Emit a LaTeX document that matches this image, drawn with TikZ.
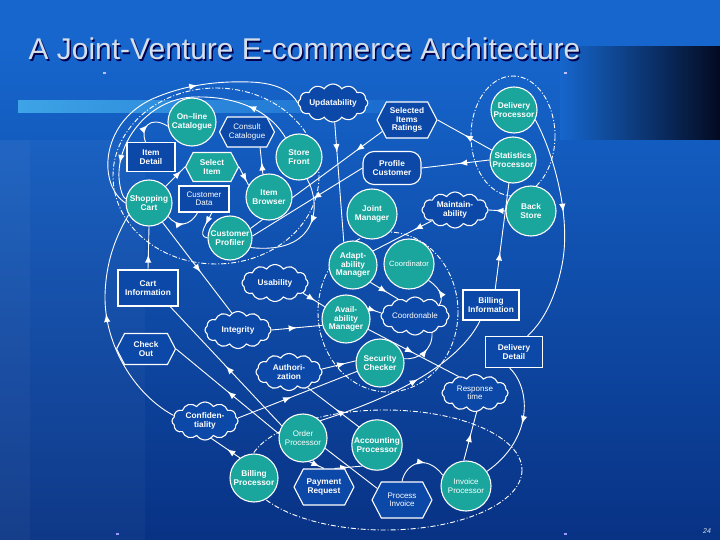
\documentclass[tikz,border=0pt]{standalone}
\usepackage{fontspec}
\setmainfont{Liberation Sans}
\usepackage{tikz}
\usetikzlibrary{shapes.geometric,shapes.symbols,decorations.markings,arrows,backgrounds}

\definecolor{slidetop}{RGB}{22,102,205}
\definecolor{slidebot}{RGB}{8,50,132}
\definecolor{darkband}{RGB}{3,10,32}
\definecolor{barblue}{RGB}{62,164,230}
\definecolor{procfill}{RGB}{26,166,156}
\definecolor{boxfill}{RGB}{12,72,168}
\definecolor{titlecol}{RGB}{214,222,234}

\tikzset{
  lbl/.style={text=white,font=\fontsize{8.3}{8.4}\selectfont\bfseries,align=center,inner sep=1pt},
  thinlbl/.style={font=\fontsize{8}{8.4}\selectfont},
  proc/.style={lbl,circle,draw=white,line width=1.1pt,fill=procfill,minimum size=#1},
  proc/.default=46pt,
  datab/.style={lbl,rectangle,draw=white,line width=1.1pt,fill=boxfill,minimum width=#1,minimum height=29pt},
  datab/.default=52pt,
  task/.style={lbl,signal,signal to=east and west,signal pointer angle=125,draw=white,line width=1.1pt,fill=boxfill,minimum width=#1,minimum height=31pt},
  task/.default=58pt,
  soft/.style={lbl,cloud,cloud puffs=12,cloud puff arc=115,cloud ignores aspect,draw=white,line width=1.1pt,fill=boxfill,minimum width=66pt,minimum height=37pt},
  flow/.style={draw=white,line width=0.9pt},
  arrowat/.style={postaction={decorate},decoration={markings,mark=at position #1 with {\arrow[scale=1.5]{latex}}}},
  arrowat/.default=0.5,
  arrowsat/.style 2 args={postaction={decorate},decoration={markings,mark=at position #1 with {\arrow[scale=1.5]{latex}},mark=at position #2 with {\arrow[scale=1.5]{latex}}}},
  bound/.style={draw=white,line width=0.9pt,dash pattern=on 5pt off 2pt on 1pt off 2pt}
}

\begin{document}
\begin{tikzpicture}[x=1pt,y=-1pt]
\useasboundingbox (0,0) rectangle (720,540);

\node[anchor=base west,text=black!70!blue,font=\fontsize{30}{30}\selectfont](titleshadow)at(26.5,61.5){A Joint-Venture E-commerce Architecture};
\node[anchor=base west,text=titlecol,font=\fontsize{30}{30}\selectfont](title)at(25,60){A Joint-Venture E-commerce Architecture};
\node[text=titlecol,font=\fontsize{7}{7}\selectfont\itshape](pagenum)at(707,531){24};

\node[proc=48pt](cat)at(192,122){On--line\\Catalogue};
\node[task=55pt,minimum height=30pt,thinlbl](consult)at(247,132){Consult\\Catalogue};
\node[proc](store)at(299,157){Store\\Front};
\node[datab=48pt](detail)at(151,157){Item\\Detail};
\node[task=53pt,minimum height=29pt,fill=procfill](select)at(212,167){Select\\Item};
\node[proc](browser)at(269,197){Item\\Browser};
\node[proc](cart)at(149,203){Shopping\\Cart};
\node[datab=50pt,minimum height=26pt,thinlbl](custdata)at(204,199){Customer\\Data};
\node[proc=44pt](profiler)at(230,238){Customer\\Profiler};
\node[soft,minimum height=38pt](updat)at(333,103){Updatability};
\node[task=60pt,minimum height=36pt](ratings)at(407,120){Selected\\Items\\Ratings};
\node[lbl,rectangle,rounded corners=11pt,draw=white,line width=1.1pt,fill=boxfill,minimum width=58pt,minimum height=33pt](profcust)at(392,168){Profile\\Customer};
\node[proc](delproc)at(514,110){Delivery\\Processor};
\node[proc](statproc)at(513,160){Statistics\\Processor};
\node[proc=50pt](backstore)at(531,211){Back\\Store};
\node[proc=50pt](joint)at(372,214){Joint\\Manager};
\node[soft,minimum height=36pt](maintain)at(455,210){Maintain-\\ability};
\node[proc=48pt](adapt)at(353,265){Adapt-\\ability\\Manager};
\node[proc=50pt,font=\fontsize{7.6}{8}\selectfont](coord)at(409,264){Coordinator};
\node[soft](usab)at(275,283){Usability};
\node[datab=60pt,minimum height=36pt](cartinfo)at(148,288){Cart\\Information};
\node[proc=48pt](avail)at(346,319){Avail-\\ability\\Manager};
\node[soft,minimum width=68pt,minimum height=38pt,thinlbl](coordon)at(415,316){Coordonable};
\node[soft](integ)at(238,330){Integrity};
\node[task=59pt](checkout)at(146,349){Check\\Out};
\node[datab=56pt,minimum height=30pt](billinfo)at(491,305){Billing\\Information};
\node[datab=57pt,minimum height=31pt](deldetail)at(514,352){Delivery\\Detail};
\node[soft](author)at(289,372){Authori-\\zation};
\node[proc=48pt](secur)at(380,363){Security\\Checker};
\node[soft,thinlbl](resp)at(475,393){Response\\time};
\node[soft,minimum height=38pt](confid)at(205,421){Confiden-\\tiality};
\node[proc=48pt,thinlbl](order)at(303,438){Order\\Processor};
\node[proc=48pt](account)at(377,445){Accounting\\Processor};
\node[proc=48pt](billproc)at(254,478){Billing\\Processor};
\node[task=60pt,minimum height=36pt](payreq)at(324,487){Payment\\Request};
\node[task=60pt,minimum height=36pt,thinlbl](procinv)at(402,500){Process\\Invoice};
\node[proc=50pt,thinlbl](invproc)at(466,486){Invoice\\Processor};

\begin{scope}[on background layer]
\fill[slidetop](0,0) rectangle (720,47);
\shade[top color=slidetop,bottom color=slidebot](0,47) rectangle (720,540);
\fill[white,opacity=0.03](0,140) rectangle (145,540);
\fill[white,opacity=0.03](0,140) rectangle (30,540);
\shade[left color=slidetop,right color=darkband](560,47) rectangle (720,140);
\shade[left color=barblue,right color=slidetop](18,101) rectangle (430,113);
\fill[white!75!blue](103,72) rectangle (106,74);
\fill[white!75!blue](564,72) rectangle (567,74);
\fill[white!60!blue](116,533) rectangle (119,535);
\fill[white!60!blue](564,533) rectangle (567,535);

\draw[bound](216,176) ellipse [x radius=103,y radius=88];
\draw[bound](513,136) ellipse [x radius=42,y radius=60];
\draw[bound](388,312) ellipse [x radius=70,y radius=80];
\draw[bound](385,470) ellipse [x radius=137,y radius=60];

\draw[flow,arrowat=0.62](cart.west) .. controls (98,185) and (100,125) .. (150,100) .. controls (185,84) and (220,81) .. (250,82) .. controls (278,83) and (292,92) .. (updat.west);
\draw[flow,arrowsat={0.2}{0.85}](store.125) .. controls (268,108) and (232,96) .. (195,97) .. controls (150,98) and (117,140) .. (119,178) .. controls (120,190) and (123,198) .. (cart.170);
\draw[flow,arrowat=0.55](confid.170) .. controls (135,395) and (104,345) .. (105,295) .. controls (106,262) and (115,238) .. (cart.-150);
\draw[flow,arrowat=0.45](detail.110) .. controls (140,128) and (150,115) .. (cat.190);
\draw[flow,arrowat=0.8](cart.45)--(select.west);
\draw[flow,arrowat=0.8](select.east)--(browser.150);
\draw[flow,arrowat=0.45](browser.105)--(consult.-50);
\draw[flow,arrowat=0.5](cart.-35) .. controls (178,228) and (190,226) .. (custdata.-115);
\draw[flow,arrowat=0.45](custdata.-60) .. controls (208,222) and (196,236) .. (profiler.west);
\draw[flow,arrowat=0.2](ratings.205)--(profiler.25);
\draw[flow,arrowat=0.45](profcust.west)--(profiler.5);
\draw[flow,arrowat=0.4](store.-70) .. controls (322,205) and (318,255) .. (profiler.-25);
\draw[flow,arrowat=0.25](updat.-85)--(adapt.112);
\draw[flow,arrowat=0.5](statproc.155)--(ratings.east);
\draw[flow,arrowat=0.45](statproc.west)--(profcust.east);
\draw[flow,arrowat=0.6](backstore.west)--(maintain.east);
\draw[flow,arrowat=0.3](maintain.205)--(adapt.35);
\draw[flow,arrowat=0.35](billinfo.75)--(statproc.-100);
\draw[flow,arrowat=0.42](delproc.-25) .. controls (552,150) and (572,215) .. (562,265) .. controls (556,295) and (545,320) .. (deldetail.50);
\draw[flow,arrowat=0.5](deldetail.-105) .. controls (532,390) and (532,440) .. (invproc.35);
\draw[flow,arrowat=0.55](invproc.95)--(resp.-85);
\draw[flow,arrowat=0.6](procinv.north) .. controls (405,465) and (425,452) .. (invproc.155);
\draw[flow,arrowat=0.7](order.-75)--(payreq.north);
\draw[flow,arrowat=0.5](payreq.60)--(account.235);
\draw[flow](order.-25)--(procinv.155);
\draw[flow,arrowat=0.5](order.150)--(cartinfo.-40);
\draw[flow,arrowat=0.5](order.170)--(checkout.east);
\draw[flow,arrowat=0.45](billproc.125)--(confid.-70);
\draw[flow,arrowat=0.45](confid.5)--(secur.-160);
\draw[flow,arrowat=0.45](account.135)--(author.-40);
\draw[flow,arrowat=0.7](author.5)--(secur.175);
\draw[flow,arrowat=0.5](integ.east)--(avail.195);
\draw[flow,arrowat=0.55](cart.-55)--(integ.110);
\draw[flow,arrowat=0.55](usab.-20)--(avail.150);
\draw[flow,arrowat=0.5](avail.-25)--(resp.135);
\draw[flow,arrowat=0.6](avail.25)--(coordon.175);
\draw[flow,arrowat=0.6](adapt.-45)--(coordon.135);
\draw[flow,arrowat=0.55](coordon.25) .. controls (443,300) and (443,290) .. (coord.-40);
\draw[flow,arrowat=0.6](secur.10) .. controls (418,360) and (433,350) .. (coordon.-45);
\draw[flow,arrowat=0.55](order.45) .. controls (370,405) and (455,372) .. (billinfo.-125);
\draw[flow,arrowat=0.35](cartinfo.north)--(cart.south);
\end{scope}
\end{tikzpicture}
\end{document}
